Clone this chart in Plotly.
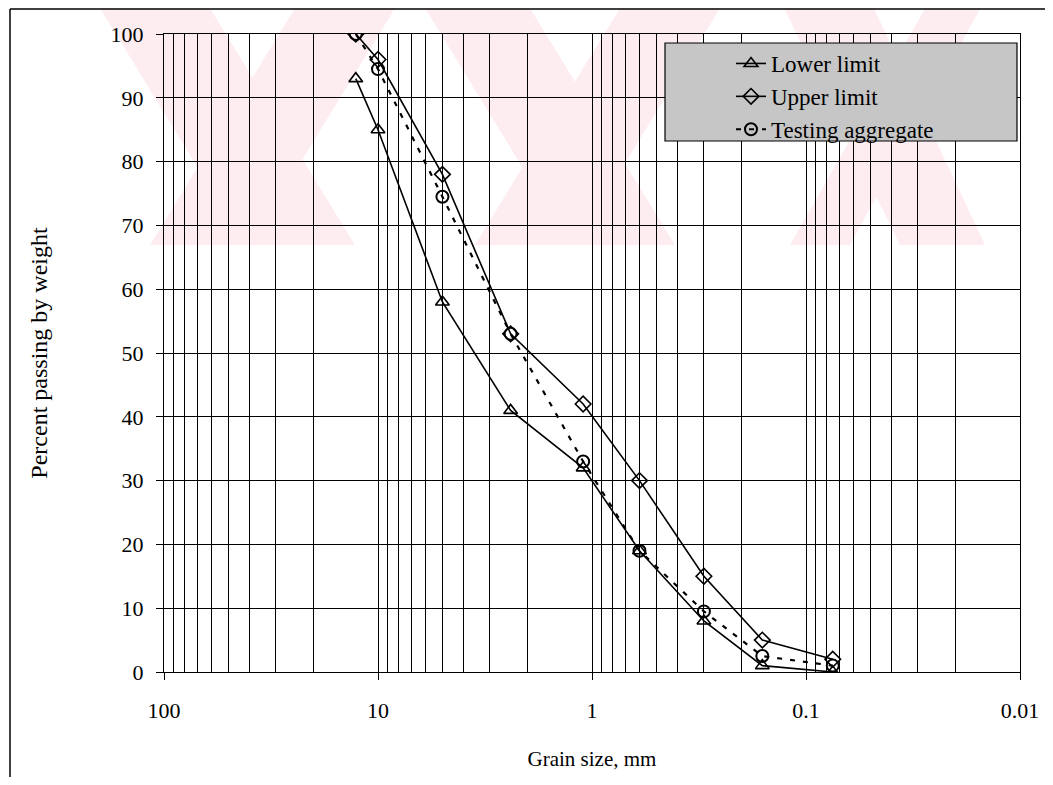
import plotly.graph_objects as go

# ---- data ----
grain_size = [12.7, 10.0, 5.0, 2.4, 1.1, 0.6, 0.3, 0.16, 0.075]
lower_limit = [93, 85, 58, 41, 32, 19, 8, 1, 0]
upper_limit = [100, 96, 78, 53, 42, 30, 15, 5, 2]
testing_aggregate = [100, 94.5, 74.5, 53, 33, 19, 9.5, 2.5, 1]

series_names = ["Lower limit", "Upper limit", "Testing aggregate"]
x_tick_vals = [100, 10, 1, 0.1, 0.01]
x_tick_text = ["100", "10", "1", "0.1", "0.01"]
minor_vals = [m * d for d in [10, 1, 0.1, 0.01] for m in range(2, 10)]

FONT = "Liberation Serif"
OFF = 8                      # default page body margin
PAGE_W, PAGE_H = 1053, 785
W, H = PAGE_W - OFF, PAGE_H - 2 * OFF
PL, PR, PT, PB = 164, 1020, 34, 672   # plot area in page pixels


def px(x):
    return (x - PL) / (PR - PL)


def py(y):
    return (PB - y) / (PB - PT)


fig = go.Figure()
fig.add_trace(go.Scatter(
    x=grain_size, y=lower_limit, name=series_names[0], mode="lines+markers",
    line=dict(color="black", width=1.6),
    marker=dict(symbol="triangle-up-open", size=12, color="black", line=dict(width=1.6))))
fig.add_trace(go.Scatter(
    x=grain_size, y=upper_limit, name=series_names[1], mode="lines+markers",
    line=dict(color="black", width=1.6),
    marker=dict(symbol="diamond-open", size=12, color="black", line=dict(width=1.6))))
fig.add_trace(go.Scatter(
    x=grain_size, y=testing_aggregate, name=series_names[2], mode="lines+markers",
    line=dict(color="black", width=2.2, dash="5px,8px"),
    marker=dict(symbol="circle-open", size=12, color="black", line=dict(width=2))))

shapes = []
# watermark (pale pink diagonal bands)
pink = "rgb(253,237,240)"
bands = [
    ((95, 205), (245, 355)),
    ((300, 400), (150, 250)),
    ((420, 525), (570, 675)),
    ((625, 725), (475, 575)),
    ((780, 870), (900, 985)),
    ((930, 985), (790, 850)),
]
for (t0, t1), (b0, b1) in bands:
    path = "M {} {} L {} {} L {} {} L {} {} Z".format(
        px(t0), py(0), px(t1), py(0), px(b1), py(245), px(b0), py(245))
    shapes.append(dict(type="path", xref="paper", yref="paper", path=path,
                       fillcolor=pink, line=dict(width=0), layer="below"))

# legend box
shapes.append(dict(type="rect", xref="paper", yref="paper",
                   x0=px(665), x1=px(1017), y0=py(141), y1=py(43),
                   fillcolor="#c6c6c6", line=dict(color="black", width=1.2), layer="above"))
# outer frame lines
for (x0, y0, x1, y1) in [(10, 9, 1053, 9), (10, 9, 10, 785), (1050, 600, 1050, 785)]:
    shapes.append(dict(type="line", xref="paper", yref="paper",
                       x0=px(x0), y0=py(y0), x1=px(x1), y1=py(y1),
                       line=dict(color="black", width=1.5), layer="above"))

fig.update_layout(
    width=W, height=H, autosize=False,
    margin=dict(l=PL - OFF, r=W - (PR - OFF), t=PT - OFF, b=H - (PB - OFF), pad=0),
    paper_bgcolor="white", plot_bgcolor="rgba(0,0,0,0)",
    font=dict(family=FONT, size=22, color="black"),
    showlegend=True,
    legend=dict(x=px(731), y=py(42), xanchor="left", yanchor="top",
                bgcolor="rgba(0,0,0,0)", borderwidth=0,
                font=dict(family=FONT, size=23, color="black"),
                tracegroupgap=0, itemwidth=30),
    shapes=shapes,
)

fig.update_xaxes(
    type="log", range=[2, -2],
    tickmode="array", tickvals=x_tick_vals, ticktext=x_tick_text,
    ticks="outside", ticklen=7, tickcolor="black", tickwidth=1,
    ticklabelstandoff=11,
    tickfont=dict(family=FONT, size=22),
    showgrid=True, gridcolor="black", gridwidth=1,
    minor=dict(tickmode="array", tickvals=minor_vals, showgrid=True,
               gridcolor="black", gridwidth=1, ticks=""),
    showline=True, mirror=True, linecolor="black", linewidth=1.2,
    title=dict(text="Grain size, mm", font=dict(family=FONT, size=21), standoff=29),
    zeroline=False,
)
fig.update_yaxes(
    range=[0, 100], dtick=10, tick0=0,
    ticks="outside", ticklen=7, tickcolor="black", tickwidth=1,
    ticklabelstandoff=8,
    tickfont=dict(family=FONT, size=22),
    showgrid=True, gridcolor="black", gridwidth=1,
    showline=True, mirror=True, linecolor="black", linewidth=1.2,
    title=dict(text="Percent passing by weight", font=dict(family=FONT, size=24), standoff=56),
    zeroline=False,
)

fig.write_html("out.html")
